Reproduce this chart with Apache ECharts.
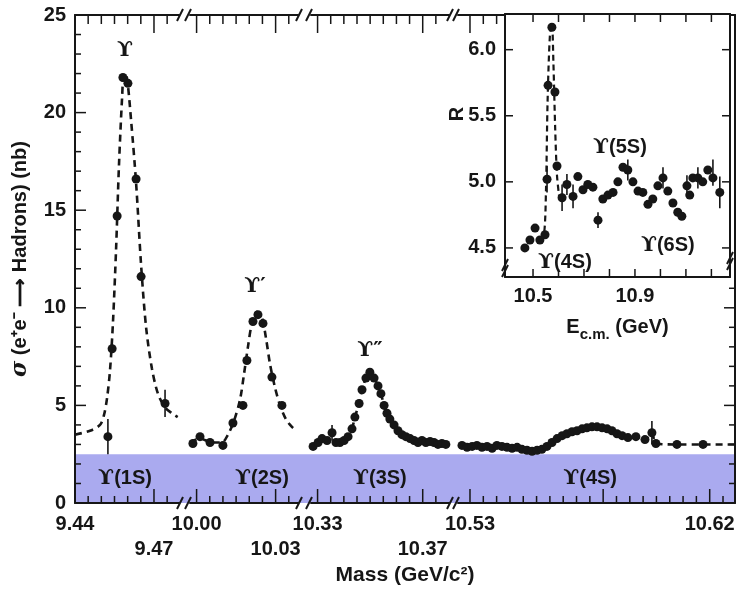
<!DOCTYPE html>
<html>
<head>
<meta charset="utf-8">
<script src="https://cdn.jsdelivr.net/npm/echarts@6/dist/echarts.min.js"></script>
<style>
  html, body { margin: 0; padding: 0; background: #fff; }
  #chart { width: 737px; height: 591px; }
</style>
</head>
<body>
<div id="chart"></div>
<script>
// ---- data ----
// segment 1 : Upsilon(1S)
const seg1PointMass  = [9.4525, 9.4541, 9.4560, 9.4582, 9.4601, 9.4632, 9.4651, 9.4742];
const seg1PointSigma = [3.4, 7.9, 14.7, 21.8, 21.5, 16.6, 11.6, 5.1];
const seg1CurveMass  = [9.4400, 9.4457, 9.4495, 9.4510, 9.4522, 9.4533, 9.4544, 9.4556, 9.4567, 9.4579, 9.4586,
                        9.4597, 9.4613, 9.4632, 9.4651, 9.4670, 9.4692, 9.4715, 9.4742, 9.4768, 9.4790];
const seg1CurveSigma = [3.5, 3.7, 4.0, 4.5, 5.4, 6.8, 9.2, 13.0, 17.3, 20.8, 22.0,
                        21.8, 19.6, 16.4, 12.2, 9.0, 6.9, 5.6, 4.9, 4.6, 4.4];
// segment 2 : Upsilon(2S)
const seg2PointMass  = [9.9986, 10.0013, 10.0051, 10.0100, 10.0138, 10.0176, 10.0191, 10.0214, 10.0233, 10.0252, 10.0286, 10.0324];
const seg2PointSigma = [3.05, 3.4, 3.1, 2.95, 4.1, 5.0, 7.3, 9.3, 9.65, 9.2, 6.45, 5.0];
const seg2CurveMass  = [9.9975, 10.0013, 10.0059, 10.0096, 10.0119, 10.0142, 10.0165, 10.0180, 10.0195, 10.0210,
                        10.0229, 10.0248, 10.0264, 10.0279, 10.0298, 10.0317, 10.0339, 10.0362, 10.0380];
const seg2CurveSigma = [3.1, 3.3, 3.1, 3.1, 3.5, 4.2, 5.3, 6.6, 8.0, 9.2,
                        9.8, 9.5, 8.4, 7.1, 5.9, 5.0, 4.3, 3.9, 3.7];
// segment 3 : Upsilon(3S)
const seg3Mass  = [10.3283, 10.3302, 10.3317, 10.3336, 10.3355, 10.3370, 10.3385, 10.3401, 10.3416, 10.3431,
                   10.3442, 10.3458, 10.3469, 10.3484, 10.3499, 10.3515, 10.3530, 10.3541, 10.3553, 10.3564,
                   10.3575, 10.3591, 10.3606, 10.3621, 10.3636, 10.3652, 10.3667, 10.3682, 10.3697, 10.3712,
                   10.3728, 10.3743, 10.3758, 10.3773, 10.3788];
const seg3Sigma = [2.9, 3.1, 3.3, 3.2, 3.6, 3.1, 3.1, 3.2, 3.4, 3.8,
                   4.4, 5.1, 5.8, 6.4, 6.7, 6.4, 6.0, 5.6, 5.0, 4.6,
                   4.3, 4.0, 3.7, 3.5, 3.4, 3.3, 3.2, 3.1, 3.2, 3.1,
                   3.15, 3.1, 3.0, 3.05, 3.0];
// segment 4 : Upsilon(4S)
const seg4Mass  = [10.5270, 10.5289, 10.5308, 10.5326, 10.5345, 10.5364, 10.5383, 10.5401, 10.5420, 10.5439,
                   10.5458, 10.5477, 10.5495, 10.5514, 10.5533, 10.5552, 10.5570, 10.5589, 10.5608, 10.5627,
                   10.5646, 10.5664, 10.5683, 10.5702, 10.5721, 10.5739, 10.5758, 10.5777, 10.5796, 10.5815,
                   10.5833, 10.5852, 10.5871, 10.5893, 10.5923, 10.5957, 10.5983, 10.5998, 10.6077, 10.6175];
const seg4Sigma = [2.95, 2.85, 2.9, 2.95, 2.85, 2.9, 2.8, 2.95, 2.9, 2.85,
                   2.8, 2.85, 2.75, 2.7, 2.65, 2.7, 2.75, 2.9, 3.1, 3.3,
                   3.45, 3.55, 3.65, 3.7, 3.8, 3.85, 3.9, 3.9, 3.85, 3.8,
                   3.7, 3.55, 3.45, 3.35, 3.4, 3.25, 3.6, 3.05, 3.0, 3.0];
const seg4TailMass  = [10.6295];
const seg4TailSigma = [3.0];
// the few error bars that stand out
const mainErrSeg  = [0, 0, 2, 3];
const mainErrMass = [9.4525, 9.4742, 10.3355, 10.5983];
const mainErrLow  = [2.5, 4.4, 3.2, 3.0];
const mainErrHigh = [4.3, 5.8, 4.0, 4.2];

// inset : R vs E_cm
const insetEnergy = [10.468, 10.488, 10.508, 10.527, 10.547, 10.555, 10.559, 10.574, 10.586, 10.594,
                     10.614, 10.633, 10.657, 10.676, 10.696, 10.715, 10.735, 10.755, 10.774, 10.794,
                     10.814, 10.833, 10.853, 10.872, 10.892, 10.912, 10.931, 10.951, 10.970, 10.990,
                     11.010, 11.029, 11.049, 11.068, 11.084, 11.104, 11.115, 11.127, 11.147, 11.166,
                     11.186, 11.206, 11.233];
const insetR = [4.50, 4.56, 4.65, 4.56, 4.60, 5.02, 5.73, 6.17, 5.68, 5.12,
                4.88, 4.98, 4.89, 5.04, 4.94, 4.98, 4.96, 4.71, 4.87, 4.90,
                4.92, 5.00, 5.11, 5.09, 5.00, 4.93, 4.92, 4.83, 4.87, 4.97,
                5.03, 4.93, 4.84, 4.77, 4.74, 4.97, 4.90, 5.03, 5.03, 5.00,
                5.09, 5.03, 4.92];
const insetCurveE = [10.527, 10.543, 10.551, 10.557, 10.566, 10.574, 10.580, 10.587, 10.594, 10.603];
const insetCurveR = [4.56, 4.60, 4.95, 5.6, 6.1, 6.2, 5.9, 5.4, 5.05, 4.88];
const insetErrE    = [10.555, 10.614, 10.633, 10.657, 10.755, 10.872, 11.010, 11.104, 11.147, 11.206, 11.233];
const insetErrLow  = [4.92, 4.78, 4.90, 4.80, 4.65, 5.01, 4.95, 4.89, 4.95, 4.97, 4.80];
const insetErrHigh = [5.12, 4.98, 5.06, 4.98, 4.77, 5.17, 5.11, 5.05, 5.11, 5.17, 5.04];

// band (0 .. 2.5 nb) and labels
const bandTop = 2.5;
const peakNames = ['ϒ', 'ϒ′', 'ϒ″'];
const peakNameMass = [9.4590, 10.0222, 10.3499];
const peakNameSigma = [23.2, 11.1, 7.8];
const bandNames = ['1S', '2S', '3S', '4S'];
const bandNameMass = [9.4590, 10.0248, 10.3537, 10.5751];
const bandNameSigma = 1.25;
const insetNames = ['4S', '5S', '6S'];
const insetNameE = [10.625, 10.841, 11.029];
const insetNameR = [4.39, 5.26, 4.52];

// ticks and tick labels
const seg1Ticks = [9.44, 9.445, 9.45, 9.455, 9.46, 9.465, 9.47, 9.475];
const seg2Ticks = [10.0, 10.005, 10.01, 10.015, 10.02, 10.025, 10.03, 10.035];
const seg3Ticks = [10.33, 10.335, 10.34, 10.345, 10.35, 10.355, 10.36, 10.365, 10.37, 10.375];
const seg4Ticks = [10.53, 10.535, 10.54, 10.545, 10.55, 10.555, 10.56, 10.565, 10.57, 10.575,
                   10.58, 10.585, 10.59, 10.595, 10.6, 10.605, 10.61, 10.615, 10.62, 10.625];
const seg1Long = [9.47], seg2Long = [10.0, 10.03], seg3Long = [10.33, 10.37], seg4Long = [10.53, 10.58, 10.62];
const seg1Labels = [9.44, 9.47], seg2Labels = [10.0, 10.03], seg3Labels = [10.33, 10.37], seg4Labels = [10.53, 10.62];
const lowerRowLabels = [9.47, 10.03, 10.37];
const sigmaTicks = [1, 2, 3, 4, 5, 6, 7, 8, 9, 10, 11, 12, 13, 14, 15, 16, 17, 18, 19, 20, 21, 22, 23, 24];
const sigmaMajor = [5, 10, 15, 20];
const insetETicks = [10.5, 10.6, 10.7, 10.8, 10.9, 11.0, 11.1, 11.2];
const insetELabels = [10.5, 10.9];
const insetRTicks = [4.5, 5.0, 5.5, 6.0];

// ---- layout ----
const INK = '#161616';
const FONT = 'Liberation Sans, Arial, sans-serif';
const TOP = 15, HEIGHT = 488;
const segs = [
  { left: 75,  width: 104, min: 9.44,    max: 9.4795,  ticks: seg1Ticks, long: seg1Long, labels: seg1Labels },
  { left: 190, width: 108, min: 9.9975,  max: 10.0385, ticks: seg2Ticks, long: seg2Long, labels: seg2Labels },
  { left: 311, width: 138, min: 10.3275, max: 10.38,   ticks: seg3Ticks, long: seg3Long, labels: seg3Labels },
  { left: 458, width: 277, min: 10.5255, max: 10.6295, ticks: seg4Ticks, long: seg4Long, labels: seg4Labels }
];
const inset = { left: 505, top: 14, width: 225, height: 263, eMin: 10.39, eMax: 11.273, rMin: 4.28, rMax: 6.27 };

const zip = (xs, ys) => xs.map((x, i) => [x, ys[i]]);
const bold = { fontFamily: FONT, fontWeight: 'bold', color: INK };
const axisLine = { show: true, onZero: false, lineStyle: { color: INK, width: 2 } };

const grids = [], xAxes = [], yAxes = [], series = [];

segs.forEach((s, gi) => {
  grids.push({ left: s.left, top: TOP, width: s.width, height: HEIGHT, outerBoundsMode: 'none' });
  const common = { gridIndex: gi, type: 'value', min: s.min, max: s.max, z: 5,
    splitLine: { show: false }, axisTick: { show: false }, axisLine };
  xAxes.push(Object.assign({}, common, {
    position: 'bottom',
    axisLabel: {
      customValues: s.labels, margin: 9, fontSize: 20, lineHeight: 25, ...bold,
      formatter: v => (lowerRowLabels.some(l => Math.abs(l - v) < 1e-6) ? '\n' : '') + v.toFixed(2)
    }
  }));
  xAxes.push(Object.assign({}, common, { position: 'top', axisLabel: { show: false } }));
});

// y axes of the main plot
const sigmaAxis = (gi, pos, visible) => ({
  gridIndex: gi, type: 'value', min: 0, max: 25, interval: 5, position: pos, z: 5, show: visible,
  splitLine: { show: false }, axisTick: { show: false }, axisLine,
  axisLabel: { show: pos === 'left', margin: 9, fontSize: 20, ...bold }
});
const yMain = sigmaAxis(0, 'left', true);
yMain.name = '{s|σ} (e⁺e⁻ ⟶ Hadrons) (nb)';
yMain.nameLocation = 'middle';
yMain.nameGap = 44;
yMain.nameTextStyle = { fontSize: 20, ...bold, rich: { s: { fontFamily: 'DejaVu Serif', fontStyle: 'italic', fontSize: 22, color: INK } } };
yAxes.push(yMain);                      // 0
yAxes.push(sigmaAxis(1, 'left', false)); // 1
yAxes.push(sigmaAxis(2, 'left', false)); // 2
yAxes.push(sigmaAxis(3, 'left', false)); // 3
yAxes.push(sigmaAxis(3, 'right', true)); // 4 right frame

// band grid (full width), carries the x title
grids.push({ left: 75, top: TOP, width: 660, height: HEIGHT, outerBoundsMode: 'none' });
xAxes.push({
  gridIndex: 4, type: 'value', min: 0, max: 1,
  axisLine: { show: false }, axisTick: { show: false }, axisLabel: { show: false }, splitLine: { show: false },
  name: 'Mass (GeV/c²)', nameLocation: 'middle', nameGap: 62, nameTextStyle: { fontSize: 21, ...bold }
});
yAxes.push({ gridIndex: 4, type: 'value', min: 0, max: 25, show: false });

// inset grid
grids.push({ left: inset.left, top: inset.top, width: inset.width, height: inset.height, show: true,
  backgroundColor: '#fff', borderWidth: 0, z: 10, outerBoundsMode: 'none' });
const insetX = (pos, labels) => ({
  gridIndex: 5, type: 'value', min: inset.eMin, max: inset.eMax, position: pos, z: 11,
  splitLine: { show: false }, axisTick: { show: false }, axisLine,
  axisLabel: labels ? { customValues: insetELabels, margin: 9, fontSize: 20, ...bold, formatter: v => v.toFixed(1) } : { show: false }
});
const xInB = insetX('bottom', true);
xInB.name = '{e|E}{sub|c.m.} (GeV)';
xInB.nameLocation = 'middle';
xInB.nameGap = 36;
xInB.nameTextStyle = { fontSize: 20, ...bold, rich: { e: { fontSize: 20, ...bold }, sub: { fontSize: 15, ...bold, padding: [14, 0, 0, 0] } } };
xAxes.push(xInB);                // 9
xAxes.push(insetX('top', false)); // 10
const insetY = (pos) => ({
  gridIndex: 5, type: 'value', min: inset.rMin, max: inset.rMax, position: pos, z: 11,
  splitLine: { show: false }, axisTick: { show: false }, axisLine,
  axisLabel: pos === 'left' ? { customValues: insetRTicks, margin: 9, fontSize: 20, ...bold, formatter: v => v.toFixed(1) } : { show: false }
});
yAxes.push(insetY('left'));   // 6
yAxes.push(insetY('right'));  // 7

// ---- series ----
const dashed = { color: INK, width: 2.6, type: [7, 5] };
const markerStyle = { color: INK, opacity: 1 };
const upsLabel = (name) => '{u|ϒ}{t|(' + name + ')}';
const richLabel = {
  u: { fontFamily: 'DejaVu Serif', fontWeight: 'bold', fontSize: 21, color: INK },
  t: { fontFamily: FONT, fontWeight: 'bold', fontSize: 20, color: INK }
};
const textMark = (coord, text) => ({
  coord, symbol: 'circle', symbolSize: 1, itemStyle: { color: 'rgba(0,0,0,0)' },
  label: { show: true, position: 'inside', formatter: () => text, rich: richLabel }
});
// vertical strokes: rows [x, yLow, yHigh] (error bars and x-axis ticks)
const vStrokes = (xi, yi, z, rows, w) => ({
  type: 'custom', xAxisIndex: xi, yAxisIndex: yi, z, silent: true, clip: false, data: rows,
  renderItem: (params, api) => {
    const lo = api.coord([api.value(0), api.value(1)]);
    const hi = api.coord([api.value(0), api.value(2)]);
    return { type: 'line', shape: { x1: lo[0], y1: lo[1], x2: hi[0], y2: hi[1] }, style: { stroke: INK, lineWidth: w } };
  }
});
// horizontal strokes: rows [xLow, y, xHigh] (y-axis ticks)
const hStrokes = (xi, yi, z, rows, w) => ({
  type: 'custom', xAxisIndex: xi, yAxisIndex: yi, z, silent: true, clip: false, data: rows,
  renderItem: (params, api) => {
    const lo = api.coord([api.value(0), api.value(1)]);
    const hi = api.coord([api.value(2), api.value(1)]);
    return { type: 'line', shape: { x1: lo[0], y1: lo[1], x2: hi[0], y2: hi[1] }, style: { stroke: INK, lineWidth: w } };
  }
});

// band
series.push({
  type: 'line', xAxisIndex: 8, yAxisIndex: 5, z: 1, symbol: 'none', silent: true,
  data: [[0, bandTop], [1, bandTop]],
  lineStyle: { width: 0 }, areaStyle: { color: '#aaaaef', opacity: 1 }
});

const segCurves = [
  zip(seg1CurveMass, seg1CurveSigma),
  zip(seg2CurveMass, seg2CurveSigma),
  zip(seg3Mass, seg3Sigma),
  zip(seg4Mass.concat(seg4TailMass), seg4Sigma.concat(seg4TailSigma))
];
const segPoints = [
  zip(seg1PointMass, seg1PointSigma),
  zip(seg2PointMass, seg2PointSigma),
  zip(seg3Mass, seg3Sigma),
  zip(seg4Mass, seg4Sigma)
];
const sigmaPerPx = 25 / HEIGHT;
const insetBottom = inset.top + inset.height;
const sigmaBelowInset = 25 * (TOP + HEIGHT - insetBottom - 2) / HEIGHT;
segs.forEach((s, gi) => {
  const xi = gi * 2;
  const massPerPx = (s.max - s.min) / s.width;
  const massAtInset = s.min + (inset.left - 2 - s.left) * massPerPx;
  // ticks of bottom and top edges (tick length in pixels turned into data units of this segment)
  const tickRows = [];
  s.ticks.forEach(v => {
    const isLong = s.long.some(l => Math.abs(l - v) < 1e-6);
    tickRows.push([v, 0, (isLong ? 14 : 7) * sigmaPerPx]);
    if (v < massAtInset) tickRows.push([v, 25 - (isLong ? 18 : 9) * sigmaPerPx, 25]);
  });
  series.push(vStrokes(xi, gi, 5, tickRows, 1.5));
  if (gi === 0) {
    series.push(hStrokes(xi, gi, 5,
      sigmaTicks.map(v => [s.min, v, s.min + (sigmaMajor.includes(v) ? 11 : 6) * massPerPx]), 1.5));
  }
  if (gi === 3) {
    series.push(hStrokes(xi, gi, 5,
      sigmaTicks.filter(v => v < sigmaBelowInset)
        .map(v => [s.max - (sigmaMajor.includes(v) ? 11 : 6) * massPerPx, v, s.max]), 1.5));
  }
  series.push({
    type: 'line', xAxisIndex: xi, yAxisIndex: gi, z: 6, symbol: 'none', smooth: 0.3,
    data: segCurves[gi], lineStyle: dashed
  });
  const rows = [];
  mainErrSeg.forEach((sg, i) => { if (sg === gi) rows.push([mainErrMass[i], mainErrLow[i], mainErrHigh[i]]); });
  if (rows.length) series.push(vStrokes(xi, gi, 6, rows, 1.6));
  const marks = [];
  if (gi < 3) marks.push(textMark([peakNameMass[gi], peakNameSigma[gi]], '{u|' + peakNames[gi] + '}'));
  marks.push(textMark([bandNameMass[gi], bandNameSigma], upsLabel(bandNames[gi])));
  series.push({
    type: 'scatter', xAxisIndex: xi, yAxisIndex: gi, z: 7, symbol: 'circle', symbolSize: 9,
    data: segPoints[gi], itemStyle: markerStyle,
    markPoint: { data: marks, z: 8 }
  });
});

// inset series
const rPerPx = (inset.rMax - inset.rMin) / inset.height;
const ePerPx = (inset.eMax - inset.eMin) / inset.width;
const insetXTickRows = [];
insetETicks.forEach(v => {
  insetXTickRows.push([v, inset.rMin, inset.rMin + 8 * rPerPx]);
  insetXTickRows.push([v, inset.rMax - 8 * rPerPx, inset.rMax]);
});
const insetYTickRows = [];
insetRTicks.forEach(v => {
  insetYTickRows.push([inset.eMin, v, inset.eMin + 8 * ePerPx]);
  insetYTickRows.push([inset.eMax - 8 * ePerPx, v, inset.eMax]);
});
series.push(vStrokes(9, 6, 12, insetXTickRows, 1.5));
series.push(hStrokes(9, 6, 12, insetYTickRows, 1.5));
series.push({
  type: 'line', xAxisIndex: 9, yAxisIndex: 6, z: 12, symbol: 'none', smooth: 0.3,
  data: zip(insetCurveE, insetCurveR), lineStyle: { color: INK, width: 2.2, type: [6, 4] }
});
series.push(vStrokes(9, 6, 12, insetErrE.map((e, i) => [e, insetErrLow[i], insetErrHigh[i]]), 1.6));
series.push({
  type: 'scatter', xAxisIndex: 9, yAxisIndex: 6, z: 13, symbol: 'circle', symbolSize: 9,
  data: zip(insetEnergy, insetR), itemStyle: markerStyle,
  markPoint: { z: 14, data: insetNames.map((n, i) => textMark([insetNameE[i], insetNameR[i]], upsLabel(n))) }
});

// ---- axis-break marks and the "R" title (decoration) ----
const slash = (x, y) => ({
  type: 'line', z: 20, silent: true, shape: { x1: x - 3, y1: y + 6, x2: x + 3, y2: y - 6 },
  style: { stroke: INK, lineWidth: 2 }
});
const breaks = [[179, 190], [298, 311], [449, 458]];
const graphics = [];
breaks.forEach(([a, b]) => {
  [TOP, TOP + HEIGHT].forEach(y => {
    if (a < inset.left) { graphics.push(slash(a + 1, y)); graphics.push(slash(b - 2, y)); }
  });
});
graphics.push(slash(inset.left, 265), slash(inset.left, 271));
graphics.push(slash(inset.left + inset.width, 258), slash(inset.left + inset.width, 264));
graphics.push({
  type: 'text', z: 20, x: 457, y: 114, rotation: Math.PI / 2,
  style: { text: 'R', font: 'bold 20px ' + FONT, fill: INK, align: 'center', verticalAlign: 'middle' }
});

const chart = echarts.init(document.getElementById('chart'), null, { renderer: 'canvas' });
chart.setOption({
  animation: false,
  backgroundColor: '#fff',
  grid: grids,
  xAxis: xAxes,
  yAxis: yAxes,
  series: series,
  graphic: graphics
});
window.addEventListener('resize', () => chart.resize());
</script>
</body>
</html>
